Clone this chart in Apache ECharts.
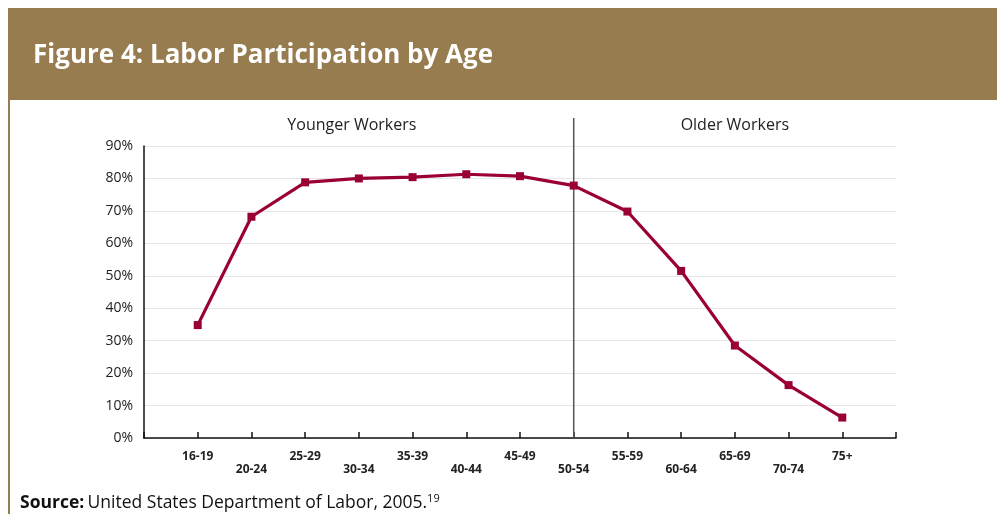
<!DOCTYPE html>
<html>
<head>
<meta charset="utf-8">
<script src="https://cdn.jsdelivr.net/npm/echarts@6/dist/echarts.min.js"></script>
<style>
  html, body { margin: 0; padding: 0; background: #ffffff; }
  #chart { width: 997px; height: 514px; }
</style>
</head>
<body>
<div id="chart"></div>
<script>
// Age brackets along the horizontal axis
const ageGroups = ['16-19', '20-24', '25-29', '30-34', '35-39', '40-44', '45-49',
                   '50-54', '55-59', '60-64', '65-69', '70-74', '75+'];
// Labor force participation rate (%) per age bracket
const participation = [34.8, 68.2, 78.8, 80.0, 80.4, 81.3, 80.7, 77.8, 69.8, 51.5, 28.5, 16.3, 6.3];
// Y axis tick values (%)
const yTicks = [0, 10, 20, 30, 40, 50, 60, 70, 80, 90];
// Bracket that separates the two worker groups
const dividerGroup = '50-54';
const sectionLabels = ['Younger Workers', 'Older Workers'];
const titleText = 'Figure 4: Labor Participation by Age';
const sourceLabel = 'Source:';
const sourceText = 'United States Department of Labor, 2005.';
const sourceNote = '19';

const FONT = '"Open Sans", "DejaVu Sans", sans-serif';
const BROWN = '#977C4F';
const LINE = '#9B0033';

// Points sit at positions 1..n, leaving one empty slot at each end of the axis
const points = participation.map((v, i) => [i + 1, v]);
const xMax = ageGroups.length + 1;

const chart = echarts.init(document.getElementById('chart'), null, { renderer: 'canvas' });

chart.setOption({
  animation: false,
  backgroundColor: '#ffffff',
  grid: { left: 144, right: 101, top: 146, bottom: 76, containLabel: false },
  xAxis: {
    type: 'value',
    min: 0,
    max: xMax,
    interval: 1,
    axisLine: { show: true, lineStyle: { color: '#111', width: 1.5 } },
    axisTick: { show: true, inside: true, length: 6, lineStyle: { color: '#111', width: 1.5 } },
    splitLine: { show: false },
    axisLabel: {
      show: true,
      margin: 12,
      fontFamily: FONT,
      fontSize: 12,
      fontWeight: 'bold',
      color: '#222',
      lineHeight: 13,
      showMinLabel: true,
      showMaxLabel: true,
      formatter: function (v) {
        const idx = Math.round(v) - 1;
        if (idx < 0 || idx >= ageGroups.length) return '';
        return idx % 2 === 0 ? ageGroups[idx] : '\n' + ageGroups[idx];
      }
    }
  },
  yAxis: {
    type: 'value',
    min: yTicks[0],
    max: yTicks[yTicks.length - 1],
    interval: yTicks[1] - yTicks[0],
    axisLine: { show: true, lineStyle: { color: '#111', width: 1.5 } },
    axisTick: { show: false },
    splitLine: { show: true, lineStyle: { color: '#e6e6e6', width: 1 } },
    axisLabel: {
      margin: 11,
      fontFamily: FONT,
      fontSize: 14,
      color: '#222',
      formatter: '{value}%'
    }
  },
  series: [{
    type: 'line',
    data: points,
    symbol: 'rect',
    symbolSize: 8,
    lineStyle: { color: LINE, width: 3.2 },
    itemStyle: { color: LINE },
    z: 5
  }]
});

// Decorations placed from the chart's own coordinate conversion
const dividerX = ageGroups.indexOf(dividerGroup) + 1;
const pBottom = chart.convertToPixel({ gridIndex: 0 }, [dividerX, yTicks[0]]);
const pTop = chart.convertToPixel({ gridIndex: 0 }, [dividerX, yTicks[yTicks.length - 1]]);
const pLeft = chart.convertToPixel({ gridIndex: 0 }, [0, 0]);
const pRight = chart.convertToPixel({ gridIndex: 0 }, [xMax, 0]);
const labelY = pTop[1] - 21;

chart.setOption({
  graphic: [
    // header band
    { type: 'rect', shape: { x: 8, y: 8, width: 989, height: 92 }, style: { fill: BROWN }, silent: true },
    { type: 'rect', shape: { x: 8, y: 100, width: 2, height: 414 }, style: { fill: BROWN }, silent: true },
    {
      type: 'text', x: 33, y: 56, silent: true,
      style: { text: titleText, fill: '#ffffff', font: 'bold 26px ' + FONT, verticalAlign: 'middle' }
    },
    // group divider
    {
      type: 'line', silent: true, z: 4,
      shape: { x1: pBottom[0], y1: pBottom[1], x2: pTop[0], y2: pTop[1] - 28 },
      style: { stroke: '#555', lineWidth: 1.5 }
    },
    {
      type: 'text', silent: true, x: (pLeft[0] + pBottom[0]) / 2 - 7, y: labelY,
      style: { text: sectionLabels[0], fill: '#222', font: '16px ' + FONT, align: 'center', verticalAlign: 'middle' }
    },
    {
      type: 'text', silent: true, x: (pBottom[0] + pRight[0]) / 2, y: labelY,
      style: { text: sectionLabels[1], fill: '#222', font: '16px ' + FONT, align: 'center', verticalAlign: 'middle' }
    },
    // source line
    {
      type: 'text', silent: true, x: 20, y: 503,
      style: {
        text: '{b|' + sourceLabel + '} {n|' + sourceText + '}{s|' + sourceNote + '}',
        verticalAlign: 'middle',
        rich: {
          b: { font: 'bold 17.5px ' + FONT, fill: '#111', lineHeight: 20 },
          n: { font: '17.5px ' + FONT, fill: '#111', lineHeight: 20 },
          s: { font: '11px ' + FONT, fill: '#111', lineHeight: 20, verticalAlign: 'top' }
        }
      }
    }
  ]
});
</script>
</body>
</html>
